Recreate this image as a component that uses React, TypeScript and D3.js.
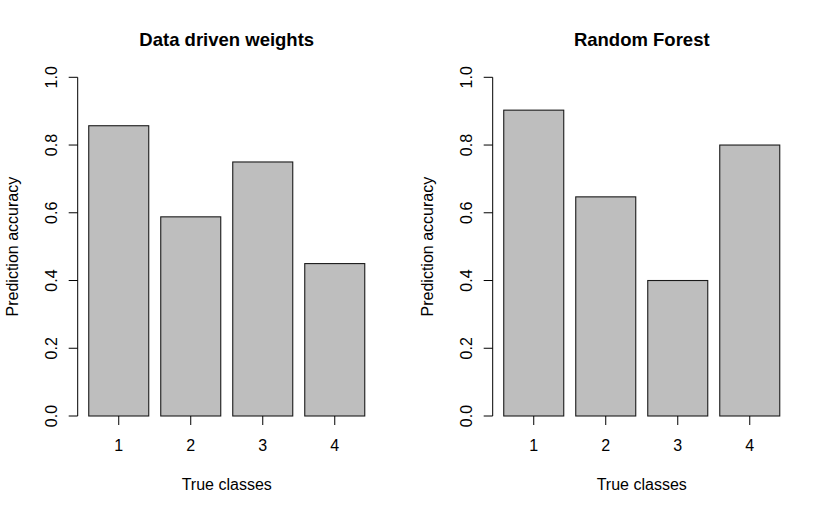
import React from 'react';
import * as d3 from 'd3';

const classes = ['1', '2', '3', '4'];
const weightsAcc = [0.857, 0.588, 0.75, 0.45];
const forestAcc = [0.903, 0.647, 0.4, 0.8];
const yTicks = [0, 0.2, 0.4, 0.6, 0.8, 1.0];
const panelTitles = ['Data driven weights', 'Random Forest'];

const W = 830;
const H = 513;
const panelW = 415;
const font = '"Liberation Sans", Arial, Helvetica, sans-serif';

function Panel({ title, values, offset }: { title: string; values: number[]; offset: number }) {
  // R barplot user coordinates: width 1, space 0.2, 4% axis extension
  const lo = 0.2, hi = 0.2 + classes.length * 1.2 - 0.2;
  const ext = (hi - lo) * 0.04;
  const x = d3.scaleLinear().domain([lo - ext, hi + ext]).range([77.7, 375.8]);
  const y = d3.scaleLinear().domain([0, 1]).range([416, 77.3]);
  const tick = 9;
  const midX = (x.range()[0] + x.range()[1]) / 2;

  return (
    <g transform={`translate(${offset},0)`} fontFamily={font}>
      <text x={midX} y={46} textAnchor="middle" fontSize={18.5} fontWeight="bold" fill="#000">
        {title}
      </text>

      {values.map((v, i) => {
        const left = 0.2 + i * 1.2;
        return (
          <rect
            key={i}
            x={x(left)}
            y={y(v)}
            width={x(left + 1) - x(left)}
            height={y(0) - y(v)}
            fill="#bebebe"
            stroke="#1a1a1a"
            strokeWidth={1.1}
          />
        );
      })}

      {/* y axis */}
      <line x1={x.range()[0]} x2={x.range()[0]} y1={y(0)} y2={y(1)} stroke="#000" strokeWidth={1} />
      {yTicks.map(t => (
        <g key={t}>
          <line x1={x.range()[0] - tick} x2={x.range()[0]} y1={y(t)} y2={y(t)} stroke="#000" strokeWidth={1} />
          <text
            transform={`translate(56.5,${y(t)}) rotate(-90)`}
            textAnchor="middle"
            fontSize={16}
            fill="#000"
          >
            {t.toFixed(1)}
          </text>
        </g>
      ))}

      {/* x ticks at bar centres, no axis line */}
      {classes.map((c, i) => {
        const cx = x(0.2 + i * 1.2 + 0.5);
        return (
          <g key={c}>
            <line x1={cx} x2={cx} y1={y(0)} y2={y(0) + tick} stroke="#000" strokeWidth={1} />
            <text x={cx} y={451} textAnchor="middle" fontSize={16} fill="#000">
              {c}
            </text>
          </g>
        );
      })}

      <text x={midX} y={490} textAnchor="middle" fontSize={16} fill="#000">
        True classes
      </text>
      <text
        transform={`translate(18,${(y(0) + y(1)) / 2}) rotate(-90)`}
        textAnchor="middle"
        fontSize={16}
        fill="#000"
      >
        Prediction accuracy
      </text>
    </g>
  );
}

export default function App() {
  return (
    <div style={{ position: 'fixed', left: 0, top: 0 }}>
      <svg width={W} height={H} style={{ display: 'block', background: '#fff' }}>
        <Panel title={panelTitles[0]} values={weightsAcc} offset={0} />
        <Panel title={panelTitles[1]} values={forestAcc} offset={panelW} />
      </svg>
    </div>
  );
}
